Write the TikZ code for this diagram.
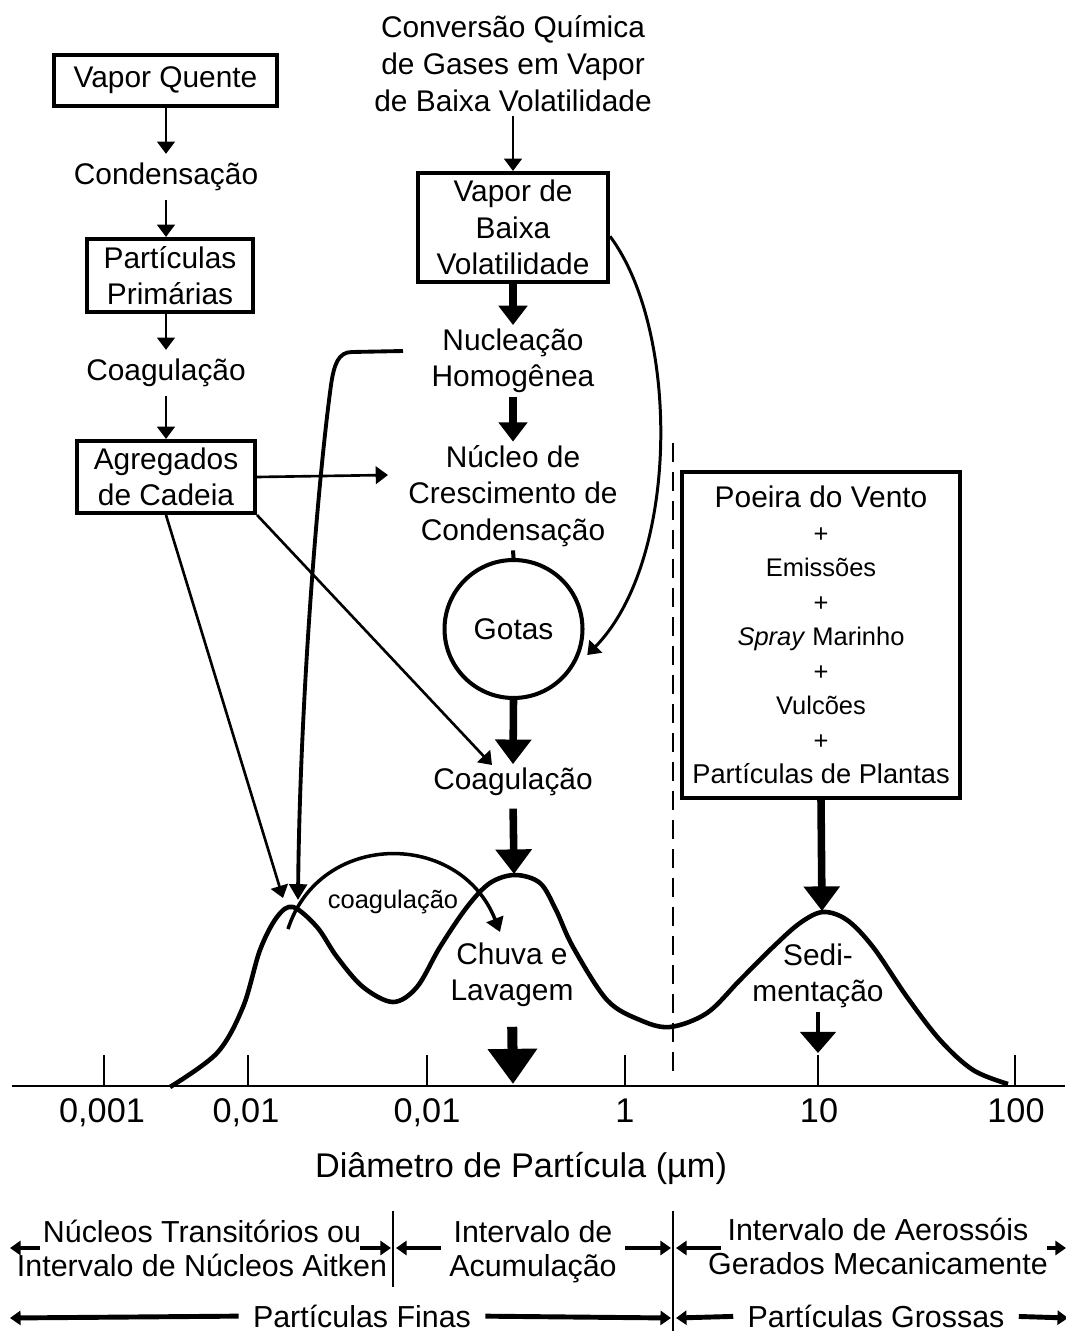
\documentclass[tikz,border=0pt]{standalone}
\usepackage{fontspec}
\setmainfont{Liberation Sans}
\usetikzlibrary{arrows.meta,calc}

\newcommand{\txtmain}{\fontsize{17}{20.7}\selectfont}
\newcommand{\txtsmall}{\fontsize{14.5}{19.6}\selectfont}
\newcommand{\txtaxis}{\fontsize{19.5}{23}\selectfont}
\newcommand{\txtrange}{\fontsize{17.3}{19.3}\selectfont}

\tikzset{
  procbox/.style={draw, line width=2.3pt, inner sep=0pt, align=center, font=\txtmain},
  lbl/.style={inner sep=2pt, align=center, font=\txtmain},
  thinarr/.style={line width=1.5pt, -{Triangle[width=10pt,length=7pt]}},
  fatarr/.style={line width=4.2pt, -{Triangle[width=16pt,length=11pt]}},
  fatarrB/.style={line width=4.3pt, -{Triangle[width=20pt,length=14pt]}},
  hugearr/.style={line width=5.7pt, -{Triangle[width=27pt,length=20pt]}},
  rangearr/.style={line width=2.8pt, -{Triangle[width=8pt,length=6pt]}},
  axtick/.style={line width=1.2pt}
}

\begin{document}
\begin{tikzpicture}[x=0.02cm, y=-0.02cm]
  \useasboundingbox (0,0) rectangle (1065,1331);

  % left column
  \node[procbox, minimum width=4.46cm, minimum height=1.02cm] (vq) at (165.5,80.5) {Vapor Quente};
  \node[lbl, inner sep=5pt] (cond1) at (166,177) {Condensação};
  \node[procbox, minimum width=3.32cm, minimum height=1.46cm] (pp) at (170,275.5) {Partículas\\Primárias};
  \node[lbl, inner sep=5pt] (coag1) at (166,373) {Coagulação};
  \node[procbox, minimum width=3.56cm, minimum height=1.44cm] (ag) at (166,477) {Agregados\\de Cadeia};

  \draw[thinarr] (vq.south -| cond1) -- (cond1.north);
  \draw[thinarr] (cond1.south) -- (cond1.south |- pp.north);
  \draw[thinarr] (pp.south -| coag1) -- (coag1.north);
  \draw[thinarr] (coag1.south) -- (ag.north);

  % middle column
  \node[lbl, font=\fontsize{17}{21}\selectfont] (conv) at (513,64) {Conversão Química\\de Gases em Vapor\\de Baixa Volatilidade};
  \node[procbox, minimum width=3.8cm, minimum height=2.18cm] (vbv) at (513,227.5) {Vapor de\\Baixa\\Volatilidade};
  \node[lbl] (nuc) at (513,361) {Nucleação\\Homogênea};
  \node[lbl] (ncc) at (513,496) {Núcleo de\\Crescimento de\\Condensação};
  \node[draw, circle, line width=2.3pt, minimum size=2.76cm, inner sep=0pt, font=\txtmain] (gotas) at (513.5,629) {Gotas};
  \node[lbl] (coag2) at (513,782) {Coagulação};

  \draw[thinarr] (conv.south) -- (vbv.north);
  \draw[fatarr] (vbv.south) -- (nuc.north);
  \draw[fatarr] (nuc.south) -- (ncc.north);
  \draw[line width=2.3pt] (ncc.south) -- (gotas.north);
  \draw[fatarrB] (gotas.south) -- (coag2.north);

  % right box
  \node[procbox, font=\txtsmall, minimum width=5.56cm, minimum height=6.52cm] (poeira) at (821,635)
    {{\txtmain Poeira do Vento}\\+\\Emissões\\+\\\textit{Spray} Marinho\\+\\Vulcões\\+\\{\fontsize{15.5}{19.6}\selectfont Partículas de Plantas}};

  % distribution curve
  \coordinate (pk1) at (293,907);
  \coordinate (pk2) at (514,874);
  \coordinate (pk3) at (822,911);
  \draw[line width=2.6pt, line join=round] plot[smooth, tension=0.55] coordinates {
    (170,1087) (217,1053) (243,1007) (260,950) (277,917) (293,907) (317,927)
    (337,957) (363,987) (393,1002) (417,987) (440,947) (467,907) (490,883)
    (515,875) (540,883) (556,910) (573,947) (607,1000) (640,1020) (670,1027)
    (707,1013) (740,980) (773,947) (800,923) (823,912) (847,920) (873,947)
    (907,997) (940,1040) (973,1070) (1008,1084)};

  \draw[fatarrB, shorten <=5pt] (coag2.south) -- (pk2);
  \draw[fatarrB] (poeira.south) -- (pk3);

  % connectors from the aggregates
  \coordinate (agTipA) at (283,898);
  \coordinate (agTipB) at (388,475);
  \coordinate (agTipC) at (492,765);
  \draw[thinarr] (ag.east) -- (agTipB);
  \draw[thinarr] (ag.south) -- (agTipA);
  \draw[thinarr] (ag.south east) -- (agTipC);

  % nucleation branch down to the first mode
  \coordinate (nucStart) at (403,351);
  \coordinate (nucTip) at (298,900);
  \draw[line width=2.2pt, -{Triangle[width=10pt,length=9pt]}] (nucStart) -- (352,352)
    .. controls (338,352) and (334,365) .. (331,385)
    .. controls (318,480) and (300,700) .. (nucTip);

  % vapour straight into the drops
  \draw[thinarr, line width=1.7pt] ([yshift=-5pt]vbv.east) .. controls (680,330) and (680,560) .. ([shift={(4pt,-1pt)}]gotas.-20);

  % coagulation between modes
  \coordinate (cgStart) at (288,929);
  \coordinate (cgTip) at (500,932);
  \node[inner sep=0pt, font=\txtsmall] (coagsm) at (393,902) {coagulação};
  \draw[line width=2pt, -{Triangle[width=10pt,length=8pt]}] (cgStart) .. controls (320,830) and (460,830) .. (cgTip);

  % removal
  \node[lbl] (chuva) at (512,975) {Chuva e\\Lavagem};
  \node[lbl] (sed) at (818,976) {Sedi-\\mentação};
  \coordinate (rainTip) at (513,1084);
  \coordinate (sedTip) at (818,1053);
  \draw[hugearr, shorten <=9pt] (chuva.south) -- (rainTip);
  \draw[line width=2.6pt, -{Triangle[width=20pt,length=12pt]}] (sed.south) -- (sedTip);

  % fine / coarse divider
  \draw[line width=1.6pt, dash pattern=on 11pt off 5.5pt] (673,443) -- (673,1080);

  % axis
  \draw[line width=1.3pt] (12,1086) -- (1065,1086);
  \foreach \xp in {104,248,427,625,818,1015}
    \draw[axtick] (\xp,1055) -- (\xp,1086);
  \foreach \xp/\txt in {102/{0,001},246/{0,01},427/{0,01},625/1,819/10,1016/100}
    \node[font=\txtaxis, inner sep=0pt, anchor=base] (ax\xp) at (\xp,1122) {\txt};
  \node[font=\txtaxis, inner sep=0pt, anchor=base] (diam) at (521,1177) {Diâmetro de Partícula (µm)};

  % size ranges
  \node[font=\txtrange, align=center, inner sep=0pt] (nucT) at (202,1248) {Núcleos Transitórios ou\\Intervalo de Núcleos Aitken};
  \node[font=\txtrange, align=center, inner sep=0pt] (acum) at (533,1252) {Intervalo de\\Acumulação};
  \node[font=\txtrange, align=center, inner sep=0pt] (aero) at (878,1246) {Intervalo de Aerossóis\\Gerados Mecanicamente};
  \node[font=\txtrange, inner sep=0pt] (finas) at (362,1316) {Partículas Finas};
  \node[font=\txtrange, inner sep=0pt] (grossas) at (876,1316) {Partículas Grossas};

  \draw[line width=1.2pt] (393,1211) -- (393,1287);
  \draw[line width=1.2pt] (673,1211) -- (673,1331);

  \coordinate (r1a) at (40,1248);   \coordinate (r1aT) at (10,1248);
  \coordinate (r1b) at (360,1248);  \coordinate (r1bT) at (391,1248);
  \coordinate (r1c) at (441,1248);  \coordinate (r1cT) at (396,1248);
  \coordinate (r1d) at (625,1248);  \coordinate (r1dT) at (671,1248);
  \coordinate (r1e) at (721,1248);  \coordinate (r1eT) at (676,1248);
  \coordinate (r1f) at (1047,1248); \coordinate (r1fT) at (1066,1248);
  \draw[rangearr] (r1a) -- (r1aT);
  \draw[rangearr] (r1b) -- (r1bT);
  \draw[rangearr] (r1c) -- (r1cT);
  \draw[rangearr] (r1d) -- (r1dT);
  \draw[rangearr] (r1e) -- (r1eT);
  \draw[rangearr] (r1f) -- (r1fT);

  \coordinate (r2aT) at (10,1318);
  \coordinate (r2bT) at (671,1318);
  \coordinate (r2cT) at (676,1318);
  \coordinate (r2dT) at (1068,1318);
  \draw[rangearr, shorten <=8pt] (finas.west) -- (r2aT);
  \draw[rangearr, shorten <=8pt] (finas.east) -- (r2bT);
  \draw[rangearr, shorten <=8pt] (grossas.west) -- (r2cT);
  \draw[rangearr, shorten <=8pt] (grossas.east) -- (r2dT);
\end{tikzpicture}
\end{document}
